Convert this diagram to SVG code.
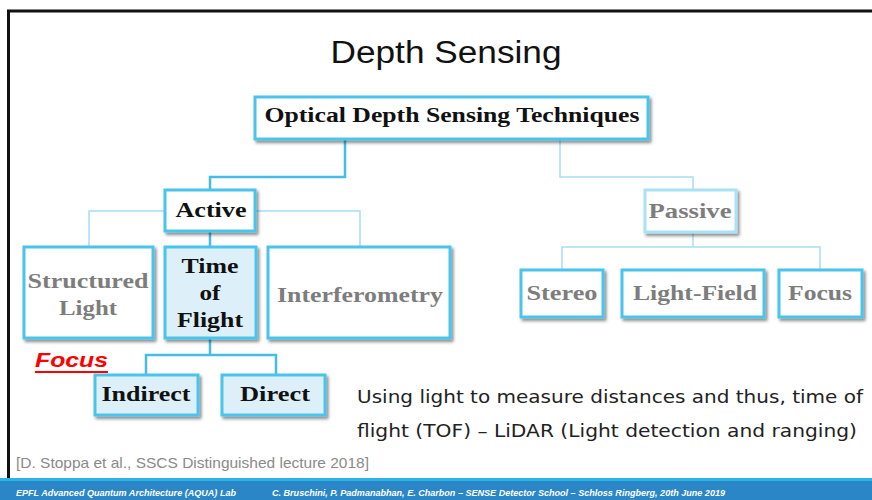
<svg xmlns="http://www.w3.org/2000/svg" width="872" height="500" viewBox="0 0 872 500">
<defs>
  <filter id="sh" x="-20%" y="-30%" width="140%" height="160%">
    <feDropShadow dx="2" dy="2.5" stdDeviation="1.6" flood-color="#000" flood-opacity="0.45"/>
  </filter>
</defs>
<style>
  .box{fill:#fff;stroke:#4ac4ec;stroke-width:3;filter:url(#sh)}
  .boxf{fill:#ddf0fa;stroke:#4ac4ec;stroke-width:3;filter:url(#sh)}
  .boxp{fill:#fff;stroke:#a9e1f5;stroke-width:3;filter:url(#sh)}
  .t{font-family:"Liberation Serif","DejaVu Serif",serif;font-weight:bold;font-size:20px;fill:#111;text-anchor:middle}
  .g{font-family:"Liberation Serif","DejaVu Serif",serif;font-weight:bold;font-size:20px;fill:#7d7d7d;text-anchor:middle}
  .dk{fill:none;stroke:#45bde8;stroke-width:2.5}
  .lt{fill:none;stroke:#a6def4;stroke-width:1.5}
</style>
<rect width="872" height="500" fill="#fff"/>
<path d="M872 11 H8.5 V480" fill="none" stroke="#111" stroke-width="3"/>
<text x="446" y="63" font-family="'Liberation Sans',Arial,sans-serif" font-size="31" fill="#111" text-anchor="middle" textLength="231" lengthAdjust="spacingAndGlyphs">Depth Sensing</text>

<g id="connectors">
  <path class="dk" d="M345 139 V177 H210 V190"/>
  <path class="lt" d="M560 139 V177 H693 V190"/>
  <path class="lt" d="M165 211 H89 V247"/>
  <path class="lt" d="M255 211 H360 V247"/>
  <path class="dk" d="M210 232 V247"/>
  <path class="dk" d="M210 338 V355 M146 375 V355 H276 V375"/>
  <path class="lt" d="M693 232 V247 M562 270 V247 H820 V270"/>
</g>

<g id="root">
  <rect class="box" x="255" y="97" width="393" height="42"/>
  <text class="t" x="452" y="122" font-size="19" textLength="375" lengthAdjust="spacingAndGlyphs">Optical Depth Sensing Techniques</text>
</g>
<g id="active">
  <rect class="box" x="165" y="190" width="90" height="41"/>
  <text class="t" x="211" y="217" textLength="71" lengthAdjust="spacingAndGlyphs">Active</text>
</g>
<g id="passive">
  <rect class="boxp" x="645" y="190" width="91" height="42"/>
  <text class="g" x="690" y="218" textLength="83" lengthAdjust="spacingAndGlyphs">Passive</text>
</g>
<g id="structured">
  <rect class="box" x="24" y="247" width="129" height="91"/>
  <text class="g" x="88" y="288" textLength="121" lengthAdjust="spacingAndGlyphs">Structured</text>
  <text class="g" x="88" y="315" textLength="58" lengthAdjust="spacingAndGlyphs">Light</text>
</g>
<g id="tof">
  <rect class="boxf" x="165" y="247" width="91" height="91"/>
  <text class="t" x="210" y="273" textLength="57" lengthAdjust="spacingAndGlyphs">Time</text>
  <text class="t" x="210" y="300" textLength="21" lengthAdjust="spacingAndGlyphs">of</text>
  <text class="t" x="210" y="327" textLength="66" lengthAdjust="spacingAndGlyphs">Flight</text>
</g>
<g id="interferometry">
  <rect class="box" x="268" y="247" width="182" height="91"/>
  <text class="g" x="360" y="302" textLength="166" lengthAdjust="spacingAndGlyphs">Interferometry</text>
</g>
<g id="indirect">
  <rect class="boxf" x="95" y="375" width="103" height="40"/>
  <text class="t" x="146" y="401" textLength="89" lengthAdjust="spacingAndGlyphs">Indirect</text>
</g>
<g id="direct">
  <rect class="boxf" x="222" y="375" width="103" height="40"/>
  <text class="t" x="275" y="401" textLength="70" lengthAdjust="spacingAndGlyphs">Direct</text>
</g>
<g id="stereo">
  <rect class="box" x="521" y="270" width="82" height="47"/>
  <text class="g" x="562" y="300" textLength="71" lengthAdjust="spacingAndGlyphs">Stereo</text>
</g>
<g id="lightfield">
  <rect class="box" x="622" y="270" width="142" height="47"/>
  <text class="g" x="695" y="300" textLength="124" lengthAdjust="spacingAndGlyphs">Light-Field</text>
</g>
<g id="focusnode">
  <rect class="box" x="779" y="270" width="83" height="47"/>
  <text class="g" x="820" y="300" textLength="64" lengthAdjust="spacingAndGlyphs">Focus</text>
</g>

<text x="35" y="367" font-family="'Liberation Sans',Arial,sans-serif" font-weight="bold" font-style="italic" font-size="21" fill="#ff0000" textLength="73" lengthAdjust="spacingAndGlyphs">Focus</text>
<rect x="35" y="371" width="73" height="2" fill="#ff0000"/>

<text x="357" y="403" font-family="'DejaVu Sans',Verdana,sans-serif" font-size="18" fill="#222" textLength="506" lengthAdjust="spacingAndGlyphs">Using light to measure distances and thus, time of</text>
<text x="357" y="437" font-family="'DejaVu Sans',Verdana,sans-serif" font-size="18" fill="#222" textLength="500" lengthAdjust="spacingAndGlyphs">flight (TOF) – LiDAR (Light detection and ranging)</text>

<text x="16" y="468" font-family="'Liberation Sans',Arial,sans-serif" font-size="15" fill="#8a8a8a" textLength="353" lengthAdjust="spacingAndGlyphs">[D. Stoppa et al., SSCS Distinguished lecture 2018]</text>

<rect x="0" y="478" width="872" height="3" fill="#29b3e6"/>
<rect x="0" y="481" width="872" height="19" fill="#2a86c6"/>
<text x="16" y="496" font-family="'Liberation Sans',Arial,sans-serif" font-weight="bold" font-style="italic" font-size="9" fill="#fff" textLength="220" lengthAdjust="spacingAndGlyphs">EPFL Advanced Quantum Architecture (AQUA) Lab</text>
<text x="272" y="496" font-family="'Liberation Sans',Arial,sans-serif" font-weight="bold" font-style="italic" font-size="9" fill="#fff" textLength="453" lengthAdjust="spacingAndGlyphs">C. Bruschini, P. Padmanabhan, E. Charbon – SENSE Detector School – Schloss Ringberg, 20th June 2019</text>
</svg>
